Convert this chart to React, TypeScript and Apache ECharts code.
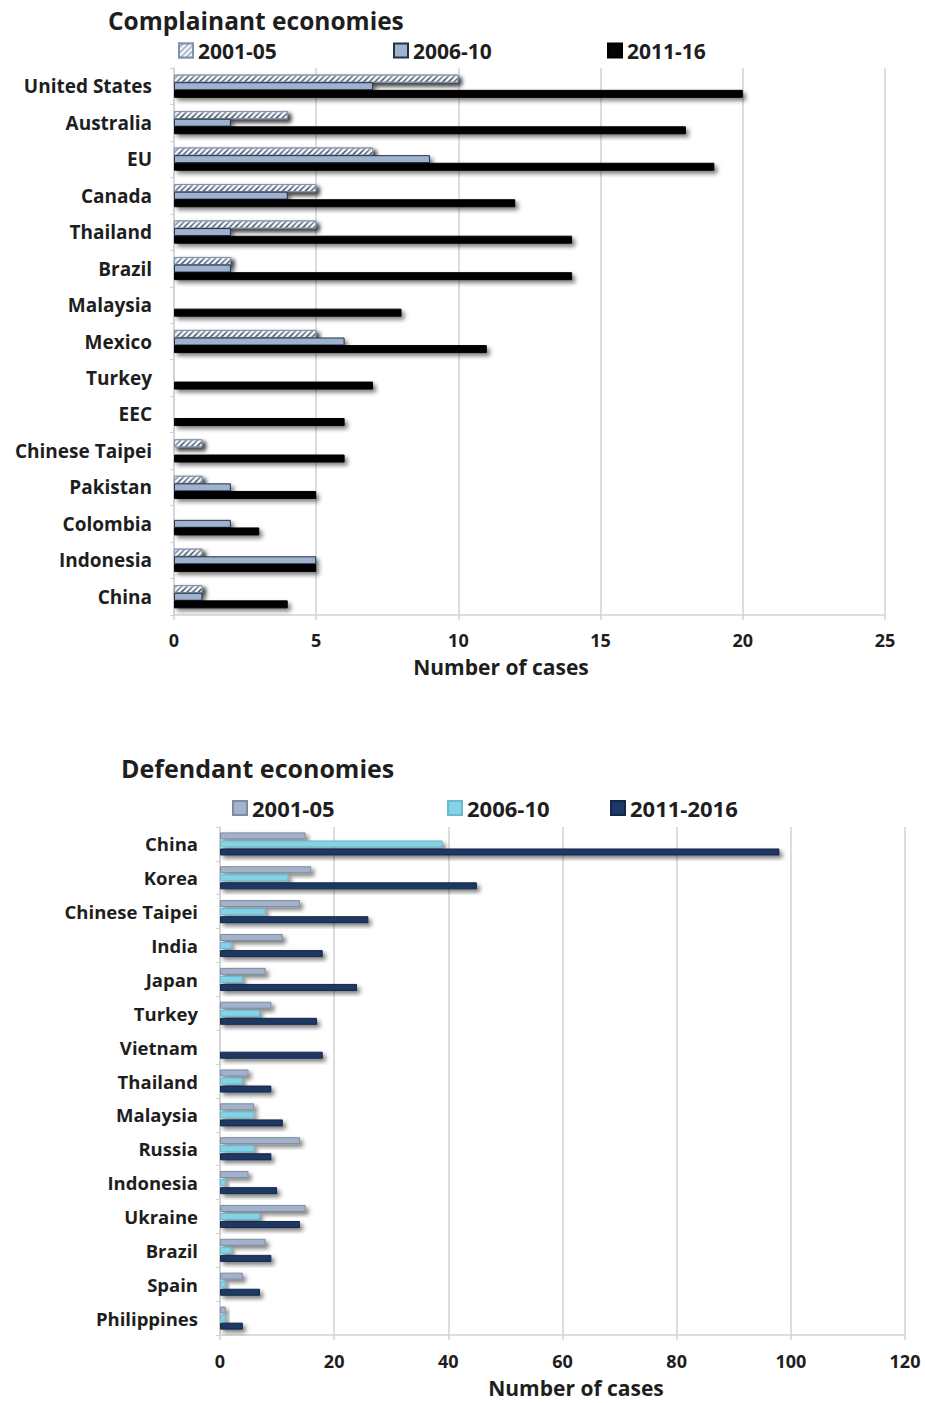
import React, { useEffect, useRef } from "react";
import * as echarts from "echarts";

// Complainant economies (cases by period)
const complainantCats = [
  "United States", "Australia", "EU", "Canada", "Thailand", "Brazil", "Malaysia",
  "Mexico", "Turkey", "EEC", "Chinese Taipei", "Pakistan", "Colombia", "Indonesia", "China",
];
const comp2001 = [10, 4, 7, 5, 5, 2, 0, 5, 0, 0, 1, 1, 0, 1, 1];
const comp2006 = [7, 2, 9, 4, 2, 2, 0, 6, 0, 0, 0, 2, 2, 5, 1];
const comp2011 = [20, 18, 19, 12, 14, 14, 8, 11, 7, 6, 6, 5, 3, 5, 4];
const compTicks = { min: 0, max: 25, interval: 5 };
const compPeriods = ["2001-05", "2006-10", "2011-16"];

// Defendant economies (cases by period)
const defendantCats = [
  "China", "Korea", "Chinese Taipei", "India", "Japan", "Turkey", "Vietnam", "Thailand",
  "Malaysia", "Russia", "Indonesia", "Ukraine", "Brazil", "Spain", "Philippines",
];
const def2001 = [15, 16, 14, 11, 8, 9, 0, 5, 6, 14, 5, 15, 8, 4, 1];
const def2006 = [39, 12, 8, 2, 4, 7, 0, 4, 6, 6, 1, 7, 2, 1, 1];
const def2011 = [98, 45, 26, 18, 24, 17, 18, 9, 11, 9, 10, 14, 9, 7, 4];
const defTicks = { min: 0, max: 120, interval: 20 };
const defPeriods = ["2001-05", "2006-10", "2011-2016"];

const FONT = "'Open Sans', Lato, sans-serif";
const TEXT = "#1e1e1e";
const GRIDLINE = "#d2d2d2";

const shadow = {
  shadowBlur: 4,
  shadowOffsetX: 3,
  shadowOffsetY: 3,
  shadowColor: "rgba(0,0,0,0.5)",
};

type PanelCfg = {
  title: string;
  titleLeft: number;
  titleTop: number;
  titleSize: number;
  cats: string[];
  periods: string[];
  values: number[][];
  styles: any[];
  legendLefts: number[];
  legendTop: number;
  legendSize: number;
  grid: { left: number; top: number; width: number; height: number };
  ticks: { min: number; max: number; interval: number };
  catFont: number;
  barWidth: number;
  barGap: string;
  nameX: number;
  nameY: number;
  tickMargin: number;
};

function buildOption(cfg: PanelCfg) {
  return {
    animation: false,
    backgroundColor: "#ffffff",
    title: {
      text: cfg.title,
      left: cfg.titleLeft,
      top: cfg.titleTop,
      textStyle: { fontFamily: FONT, fontSize: cfg.titleSize, fontWeight: "bold", color: TEXT },
    },
    legend: cfg.periods.map((p, i) => ({
      data: [p],
      left: cfg.legendLefts[i],
      top: cfg.legendTop,
      icon: "rect",
      itemWidth: 14,
      itemHeight: 14,
      itemGap: 5,
      selectedMode: false,
      textStyle: { fontFamily: FONT, fontSize: cfg.legendSize, fontWeight: "bold", color: TEXT },
    })),
    grid: { ...cfg.grid, containLabel: false },
    xAxis: {
      type: "value",
      min: cfg.ticks.min,
      max: cfg.ticks.max,
      interval: cfg.ticks.interval,
      axisLine: { show: true, lineStyle: { color: GRIDLINE, width: 1.5 } },
      axisTick: { show: true, length: 5, lineStyle: { color: GRIDLINE, width: 1.5 } },
      splitLine: { show: true, lineStyle: { color: GRIDLINE, width: 1.5 } },
      axisLabel: {
        margin: cfg.tickMargin,
        fontFamily: FONT,
        fontSize: 18,
        fontWeight: "bold",
        color: TEXT,
      },
    },
    yAxis: {
      type: "category",
      inverse: true,
      data: cfg.cats,
      axisLine: { show: true, lineStyle: { color: GRIDLINE, width: 1.5 } },
      axisTick: { show: true, length: 4, lineStyle: { color: GRIDLINE, width: 1 } },
      axisLabel: {
        margin: 22,
        fontFamily: FONT,
        fontSize: cfg.catFont,
        fontWeight: "bold",
        color: TEXT,
      },
    },
    graphic: [
      {
        type: "text",
        x: cfg.nameX,
        y: cfg.nameY,
        style: {
          text: "Number of cases",
          fontFamily: FONT,
          fontSize: 21,
          fontWeight: "bold",
          fill: TEXT,
          textAlign: "center",
          textVerticalAlign: "middle",
        },
      },
    ],
    series: cfg.periods.map((p, i) => ({
      type: "bar",
      name: p,
      data: cfg.values[i],
      barWidth: cfg.barWidth,
      barGap: cfg.barGap,
      itemStyle: { ...cfg.styles[i] },
    })),
  };
}

const topCfg: PanelCfg = {
  title: "Complainant economies",
  titleLeft: 103,
  titleTop: 3,
  titleSize: 24.5,
  cats: complainantCats,
  periods: compPeriods,
  values: [comp2001, comp2006, comp2011],
  styles: [
    {
      color: "#aabdd8",
      borderColor: "#8293ab",
      borderWidth: 1,
      decal: {
        symbol: "rect",
        symbolSize: 1,
        color: "rgba(255,255,255,0.9)",
        dashArrayX: [1, 0],
        dashArrayY: [2, 2],
        rotation: -Math.PI / 4,
      },
      ...shadow,
    },
    { color: "#9fb3d1", borderColor: "#243247", borderWidth: 1, ...shadow },
    { color: "#050505", borderColor: "#000000", borderWidth: 1, ...shadow },
  ],
  legendLefts: [173, 388, 602],
  legendTop: 35,
  legendSize: 21,
  grid: { left: 174, top: 68, width: 711, height: 547 },
  ticks: compTicks,
  catFont: 19,
  barWidth: 8,
  barGap: "-5%",
  nameX: 501,
  nameY: 667,
  tickMargin: 16,
};

const bottomCfg: PanelCfg = {
  title: "Defendant economies",
  titleLeft: 116,
  titleTop: 50,
  titleSize: 25,
  cats: defendantCats,
  periods: defPeriods,
  values: [def2001, def2006, def2011],
  styles: [
    { color: "#a2b2ca", borderColor: "#7c8ba1", borderWidth: 1, ...shadow },
    { color: "#84d2e5", borderColor: "#6cb8cc", borderWidth: 1, ...shadow },
    { color: "#1d3864", borderColor: "#142848", borderWidth: 1, ...shadow },
  ],
  legendLefts: [227, 442, 605],
  legendTop: 92,
  legendSize: 22,
  grid: { left: 220, top: 127, width: 685, height: 508 },
  ticks: defTicks,
  catFont: 18.5,
  barWidth: 7,
  barGap: "15%",
  nameX: 576,
  nameY: 688,
  tickMargin: 17,
};

function Panel({ cfg, height }: { cfg: PanelCfg; height: number }) {
  const ref = useRef<HTMLDivElement>(null);
  useEffect(() => {
    if (!ref.current) return;
    const chart = echarts.init(ref.current, undefined, { renderer: "svg" });
    chart.setOption(buildOption(cfg) as any);
    return () => chart.dispose();
  }, [cfg]);
  return <div ref={ref} style={{ width: 925, height }} />;
}

export default function App() {
  useEffect(() => {
    document.body.style.margin = "0";
  }, []);
  return (
    <div style={{ width: 925, height: 1403, background: "#fff" }}>
      <Panel cfg={topCfg} height={700} />
      <Panel cfg={bottomCfg} height={703} />
    </div>
  );
}
